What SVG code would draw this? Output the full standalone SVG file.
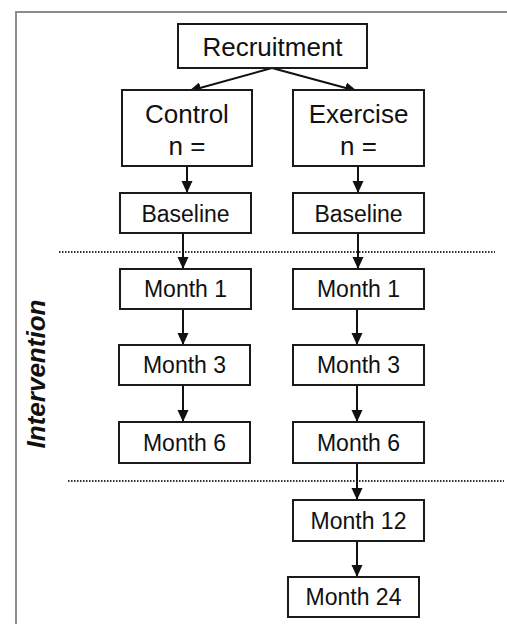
<svg xmlns="http://www.w3.org/2000/svg" width="507" height="624" viewBox="0 0 507 624">
<defs>
<style>
.box{fill:#fff;stroke:#1a1a1a;stroke-width:2}
.t{font-family:"Liberation Sans",Arial,sans-serif;fill:#111;text-anchor:middle}
.big{font-size:26px}
.sm{font-size:23px}
.c{stroke:#111;stroke-width:2;fill:none;marker-end:url(#ah)}
.dot{stroke:#333;stroke-width:2;stroke-dasharray:1.5 1.5;fill:none}
</style>
<marker id="ah" markerUnits="userSpaceOnUse" markerWidth="12" markerHeight="12" viewBox="0 0 12 12" refX="12" refY="6" orient="auto">
<path d="M0,0.5 L12,6 L0,11.5 Z" fill="#111"/>
</marker>
</defs>
<rect width="507" height="624" fill="#fff"/>
<path d="M16,624 V12 H507" fill="none" stroke="#8c8c8c" stroke-width="2"/>
<g id="intervention-label"><text class="t" transform="translate(45,374) rotate(-90)" style="font-size:26px;font-weight:bold;font-style:italic">Intervention</text></g>
<g id="dividers">
<line class="dot" x1="59" y1="252" x2="495" y2="252"/>
<line class="dot" x1="68" y1="481" x2="504" y2="481"/>
</g>
<g id="connectors">
<line class="c" x1="272" y1="68" x2="189" y2="91"/>
<line class="c" x1="272" y1="68" x2="357" y2="91"/>
<line class="c" x1="187" y1="166" x2="187" y2="193"/>
<line class="c" x1="183" y1="233" x2="183" y2="269"/>
<line class="c" x1="183" y1="309" x2="183" y2="345"/>
<line class="c" x1="183" y1="385" x2="183" y2="422"/>
<line class="c" x1="358" y1="166" x2="358" y2="193"/>
<line class="c" x1="358" y1="233" x2="358" y2="269"/>
<line class="c" x1="357" y1="309" x2="357" y2="345"/>
<line class="c" x1="357" y1="385" x2="357" y2="422"/>
<line class="c" x1="357" y1="463" x2="357" y2="500"/>
<line class="c" x1="357" y1="541" x2="357" y2="577"/>
</g>
<g id="recruitment"><rect class="box" x="178" y="24" width="189" height="44"/><text class="t big" x="272.5" y="56">Recruitment</text></g>
<g id="control"><rect class="box" x="122" y="90" width="130" height="76"/><text class="t big" x="187" y="123">Control</text><text class="t big" x="187" y="155">n =</text></g>
<g id="exercise"><rect class="box" x="293" y="90" width="131" height="76"/><text class="t big" x="358.5" y="123">Exercise</text><text class="t big" x="358.5" y="155">n =</text></g>
<g id="baseline-c"><rect class="box" x="120" y="193" width="131" height="40"/><text class="t sm" x="185.5" y="222">Baseline</text></g>
<g id="baseline-e"><rect class="box" x="293" y="193" width="131" height="40"/><text class="t sm" x="358.5" y="222">Baseline</text></g>
<g id="m1-c"><rect class="box" x="120" y="269" width="131" height="40"/><text class="t sm" x="185.5" y="297">Month 1</text></g>
<g id="m1-e"><rect class="box" x="293" y="269" width="131" height="40"/><text class="t sm" x="358.5" y="297">Month 1</text></g>
<g id="m3-c"><rect class="box" x="119" y="345" width="131" height="40"/><text class="t sm" x="184.5" y="373">Month 3</text></g>
<g id="m3-e"><rect class="box" x="293" y="345" width="131" height="40"/><text class="t sm" x="358.5" y="373">Month 3</text></g>
<g id="m6-c"><rect class="box" x="119" y="422" width="131" height="41"/><text class="t sm" x="184.5" y="451">Month 6</text></g>
<g id="m6-e"><rect class="box" x="293" y="422" width="131" height="41"/><text class="t sm" x="358.5" y="451">Month 6</text></g>
<g id="m12"><rect class="box" x="293" y="500" width="131" height="41"/><text class="t sm" x="358.5" y="529">Month 12</text></g>
<g id="m24"><rect class="box" x="288" y="577" width="131" height="40"/><text class="t sm" x="353.5" y="605">Month 24</text></g>
</svg>
